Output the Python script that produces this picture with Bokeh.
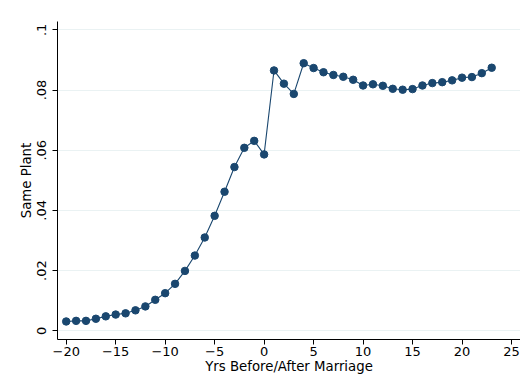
from bokeh.plotting import figure
from bokeh.models import Range1d, FixedTicker, BoxAnnotation
from bokeh.embed import file_html
from bokeh.resources import INLINE

years = list(range(-20, 24))
same_plant = [0.0031, 0.0033, 0.0033, 0.0040, 0.0048, 0.0054, 0.0058, 0.0068, 0.0081, 0.0103,
              0.0125, 0.0156, 0.0199, 0.0250, 0.0310, 0.0382, 0.0462, 0.0544, 0.0608, 0.0631,
              0.0586, 0.0865, 0.0821, 0.0787, 0.0889, 0.0873, 0.0859, 0.0850, 0.0844, 0.0834,
              0.0815, 0.0819, 0.0814, 0.0804, 0.0801, 0.0803, 0.0815, 0.0823, 0.0826, 0.0832,
              0.0841, 0.0843, 0.0856, 0.0874]
x_ticks = [-20, -15, -10, -5, 0, 5, 10, 15, 20, 25]
y_ticks = [0, 0.02, 0.04, 0.06, 0.08, 0.1]
y_tick_labels = ["0", ".02", ".04", ".06", ".08", ".1"]

navy = "#1a476f"
font = "DejaVu Sans"

p = figure(width=520, height=382, output_backend="svg", toolbar_location=None,
           x_range=Range1d(-20.88, 25.91), y_range=Range1d(-0.00289, 0.10276),
           min_border_left=57, min_border_right=0, min_border_top=21, min_border_bottom=43)

# faint outer graph-region border (top and left edges visible in the reference)
p.add_layout(BoxAnnotation(left=5.5, top=7.5, right=700, bottom=700,
                           left_units="canvas", right_units="canvas",
                           top_units="canvas", bottom_units="canvas",
                           fill_alpha=0, line_color="#e8eff1", line_width=1,
                           level="underlay"))

p.line(years, same_plant, line_color=navy, line_width=1.1)
p.scatter(years, same_plant, size=7.5, fill_color=navy, line_color=navy)

p.outline_line_color = None
p.background_fill_color = "white"
p.border_fill_color = "white"

p.xgrid.grid_line_color = None
p.ygrid.grid_line_color = "#eaf2f3"
p.ygrid.grid_line_width = 1.2

p.xaxis.ticker = FixedTicker(ticks=x_ticks)
p.yaxis.ticker = FixedTicker(ticks=y_ticks)
p.yaxis.major_label_overrides = {t: l for t, l in zip(y_ticks, y_tick_labels)}
p.yaxis.major_label_orientation = "vertical"

p.xaxis.axis_label = "Yrs Before/After Marriage"
p.yaxis.axis_label = "Same Plant"

for ax in (p.xaxis, p.yaxis):
    ax.axis_line_color = "black"
    ax.axis_line_width = 1
    ax.major_tick_line_color = "black"
    ax.major_tick_out = 5
    ax.major_tick_in = 0
    ax.minor_tick_out = 0
    ax.minor_tick_in = 0
    ax.major_label_text_font = font
    ax.major_label_text_font_size = "13px"
    ax.major_label_text_color = "black"
    ax.axis_label_text_font = font
    ax.axis_label_text_font_size = "13.3px"
    ax.axis_label_text_font_style = "normal"
    ax.axis_label_text_color = "black"

p.xaxis.major_label_standoff = 2
p.xaxis.axis_label_standoff = 0
p.yaxis.major_label_standoff = 6
p.yaxis.axis_label_standoff = 1

open("out.html", "w").write(file_html(p, INLINE))
